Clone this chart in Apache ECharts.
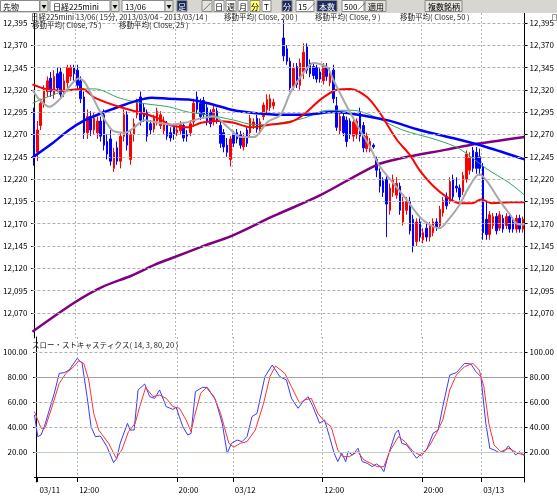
<!DOCTYPE html>
<html>
<head>
<meta charset="utf-8">
<title>日経225mini 15分足</title>
<script src="https://cdn.jsdelivr.net/npm/echarts@6/dist/echarts.min.js"></script>
<style>
html, body { margin: 0; padding: 0; background: #fff; }
#main { width: 557px; height: 496px; }
</style>
</head>
<body>
<div id="main"></div>
<script>
// ローソク足 [始値, 終値, 安値, 高値]（'-' は空き）
var ohlc = [
  [12295,12245,12235,12300],[12250,12275,12240,12285],[12280,12305,12275,12310],[12305,12320,12300,12325],
  [12318,12330,12312,12335],[12333,12318,12312,12340],[12315,12335,12310,12342],[12338,12322,12318,12345],
  [12340,12315,12310,12345],[12318,12330,12312,12338],[12328,12345,12322,12348],[12335,12345,12330,12348],
  [12345,12338,12330,12348],[12342,12325,12320,12348],[12330,12310,12305,12335],[12312,12272,12265,12318],
  [12272,12290,12265,12298],[12290,12275,12268,12296],[12275,12288,12270,12295],[12272,12285,12265,12290],
  [12285,12268,12262,12290],[12292,12258,12252,12298],[12262,12248,12242,12270],[12265,12240,12235,12275],
  [12232,12250,12228,12255],[12255,12240,12236,12262],[12240,12268,12232,12272],[12268,12292,12262,12298],
  [12292,12258,12252,12296],[12242,12270,12236,12274],[12270,12282,12262,12288],[12292,12305,12288,12310],
  [12312,12286,12280,12318],[12300,12290,12284,12305],[12295,12268,12262,12298],[12282,12275,12270,12286],
  [12276,12288,12272,12292],[12285,12296,12280,12300],[12280,12292,12276,12296],[12274,12284,12270,12290],
  [12282,12268,12264,12285],[12272,12266,12262,12278],[12278,12270,12264,12282],[12272,12275,12268,12280],
  [12274,12281,12270,12285],[12280,12266,12262,12284],[12270,12268,12262,12275],[12272,12282,12268,12286],
  [12284,12305,12280,12310],[12312,12298,12294,12318],[12305,12290,12286,12310],[12308,12292,12288,12312],
  [12300,12285,12280,12304],[12295,12282,12278,12298],[12285,12298,12280,12302],[12296,12286,12282,12300],
  [12280,12260,12255,12284],[12272,12256,12250,12276],[12258,12250,12245,12266],[12242,12265,12234,12268],
  [12270,12260,12256,12274],[12272,12265,12260,12276],[12270,12258,12254,12274],[12256,12268,12252,12272],
  [12275,12260,12256,12278],[12272,12288,12268,12292],[12280,12284,12276,12288],[12288,12276,12272,12292],
  [12276,12284,12272,12288],[12290,12303,12286,12306],[12298,12309,12294,12315],[12300,12310,12296,12315],
  [12302,12306,12298,12310],'-','-',[12378,12358,12352,12398],
  [12366,12352,12348,12370],[12352,12322,12318,12356],[12324,12344,12320,12350],[12346,12326,12322,12350],
  [12325,12350,12320,12355],[12340,12362,12332,12372],[12368,12342,12338,12372],[12350,12338,12334,12354],
  [12346,12336,12332,12350],[12345,12332,12328,12348],[12340,12332,12328,12344],[12330,12346,12326,12350],
  [12345,12335,12330,12350],[12328,12340,12324,12345],[12342,12310,12305,12348],[12302,12278,12274,12312],
  [12274,12290,12270,12294],[12290,12272,12268,12294],[12286,12262,12256,12290],[12285,12270,12265,12288],
  [12268,12284,12262,12288],[12270,12285,12265,12288],[12295,12268,12262,12300],[12280,12255,12250,12284],
  [12254,12268,12250,12272],[12252,12262,12250,12266],[12258,12256,12254,12260],[12242,12230,12222,12245],
  [12228,12212,12205,12232],[12218,12205,12200,12222],[12220,12192,12155,12224],[12185,12210,12180,12215],
  [12205,12220,12200,12225],[12202,12215,12198,12222],[12212,12185,12180,12216],[12172,12195,12168,12200],
  [12185,12195,12180,12200],[12195,12162,12158,12200],[12175,12145,12138,12180],[12150,12172,12145,12176],
  [12172,12155,12150,12176],[12152,12160,12148,12165],[12165,12155,12150,12170],[12155,12168,12150,12172],
  [12160,12172,12156,12176],[12172,12166,12162,12176],[12168,12186,12164,12190],[12182,12196,12178,12200],
  [12200,12190,12186,12205],[12195,12217,12192,12222],[12220,12200,12196,12225],[12212,12210,12205,12222],
  [12210,12200,12196,12214],[12206,12224,12202,12228],[12220,12248,12216,12252],[12230,12244,12225,12250],
  [12252,12232,12228,12256],[12250,12232,12226,12256],[12245,12232,12224,12254],[12234,12160,12152,12238],
  [12175,12158,12152,12195],[12158,12180,12152,12184],[12168,12178,12164,12182],[12178,12162,12158,12182],
  [12165,12180,12162,12184],[12176,12164,12160,12180],[12168,12178,12164,12182],[12178,12164,12160,12182],
  [12172,12164,12160,12176],[12164,12176,12160,12180],[12176,12164,12160,12180],[12164,12175,12160,12178]
];

// 移動平均 [足の位置, 値]（画面から読み取り）
var ma200 = [[-0.5,12049],[12.3,12082],[20.4,12099],[29.4,12112],[36.2,12124],[42.5,12133],[50.2,12144],
  [59.8,12157],[71.1,12177],[74.1,12182],[86.1,12202],[103.1,12236],[110,12243],[124,12253],[130.8,12258],[147.5,12267]];
var ma75 = [[-0.5,12244],[5.5,12260],[10.5,12275],[15.3,12286],[20.4,12294],[25.5,12301],[30.2,12307],[35.3,12311],
  [40.4,12310],[46.4,12309],[52.3,12305],[60.1,12297],[66.1,12294],[74.1,12292],[81,12292],[90,12295],[95.9,12293],
  [106.1,12286],[115.9,12275],[125.8,12266],[135.9,12256],[147.5,12242]];
var ma50 = [[-0.5,12305],[5.5,12314],[10.5,12320],[18.3,12321],[25.5,12311],[32.3,12305],[40.4,12301],[46.4,12295],
  [52.3,12292],[60.1,12286],[66.1,12281],[71.1,12281],[74.1,12283],[81,12288],[88.2,12297],[95.9,12297],[101,12292],
  [110.8,12275],[121,12264],[127.9,12254],[135.9,12232],[142.8,12216],[147.5,12202]];
var ma25 = [[-0.5,12326],[3.4,12321],[8.5,12319],[14.4,12321],[18.3,12311],[25.5,12301],[32.3,12294],[37.4,12288],
  [41.3,12280],[46.4,12278],[50.2,12283],[55.3,12285],[60.1,12283],[65.2,12278],[71.1,12281],[77.1,12284],[81,12292],
  [86.1,12309],[91.1,12320],[95,12321],[100.1,12312],[104,12294],[109.1,12264],[113,12247],[115.9,12230],[119.8,12213],
  [124,12200],[127.9,12193],[131.7,12193],[134.4,12197],[137.7,12193],[142.8,12194],[147.5,12194]];
var ma9 = [[-0.5,12320],[1.6,12309],[4.6,12301],[7.6,12309],[10.5,12323],[13.5,12333],[15.3,12328],[19.5,12298],
  [23.4,12275],[27.3,12272],[30.2,12278],[33.2,12286],[37.4,12283],[41.3,12281],[45.2,12283],[50.2,12288],[54.1,12290],
  [58.3,12278],[62.2,12267],[66.1,12267],[70.2,12284],[74.1,12292],[77.1,12317],[81,12339],[84,12350],[88.2,12345],
  [90,12331],[94.1,12301],[98,12275],[101,12256],[104,12234],[107.9,12216],[112,12197],[115.9,12178],[118.9,12169],
  [121.9,12165],[124.9,12176],[127.9,12191],[130.8,12211],[133.8,12225],[135.9,12219],[139.8,12197],[142.8,12182],
  [145.8,12169],[147.5,12169]];

// スロー・ストキャスティクス
var stochK = [[-0.5,49.6],[0.5,32.3],[1.5,33.6],[2.5,40.3],[4,53.6],[5.5,67],[7,82.9],[8.5,83.5],[10,85.6],[12.4,94.9],
  [13.9,90.9],[15.4,64.3],[16.6,40.3],[17.9,32.3],[19.4,32.8],[21.4,24.3],[23.4,11.5],[24.4,15],[25.4,27],[27.6,42.9],
  [28.4,37.6],[29.6,37.6],[30.8,69.6],[32.8,74.4],[34.3,64.3],[35.8,62.9],[37.3,69.6],[39.3,56.3],[41.3,54.1],[42.3,55.7],
  [44.3,40.3],[45.8,33.6],[46.8,34.9],[48.1,68.3],[50.2,71.7],[51.7,71.7],[54.2,61.6],[56.2,43],[57.7,19],[59,27],
  [60.7,29.6],[62.2,28.3],[63.7,32.3],[65.2,48.3],[66.7,50.9],[69.1,80.3],[71.3,89.6],[73.6,80.3],[75.6,77.6],[77.1,63],
  [79.1,55],[80.6,60.3],[82.1,64.3],[83.6,56.3],[85.6,43],[87.1,45.6],[88.6,32.3],[90,19],[91.1,12.3],[92.3,19],
  [93.5,12.3],[94.2,20.3],[95.5,17.6],[97.2,23],[98.5,12.3],[100,11],[101.5,8.3],[102.8,10.4],[104,8.3],[105,4.3],
  [106.5,19],[108.5,35],[109.4,37.6],[110.4,27],[111.9,25.6],[114.9,15],[116.4,19],[117.9,21.6],[119.9,35],[121.4,37.6],
  [122.8,56.3],[124.9,81.6],[126.9,83.5],[129.4,90.9],[131.3,90.4],[132.8,84.3],[134.3,80.3],[135.8,43],[137,23],
  [138.3,21.6],[139.8,19.5],[141.3,20.3],[142.6,24.9],[144.8,17.6],[146,20.3],[147.5,16.9]];
var stochD = [[-0.5,52.3],[1.5,39],[2.7,39],[4.5,53.6],[7,74.9],[9,82.9],[11.4,88.3],[12.9,93],[14.4,90.9],[15.9,77.6],
  [17.4,50.9],[18.9,37.6],[20.4,32.3],[21.9,27],[24.2,15],[25.9,21.6],[27.9,36.3],[29.9,42.9],[31.3,56.3],[33.1,71.7],
  [35.3,64.3],[37.3,65.6],[39.3,62.9],[41.3,56.3],[43.3,55],[45.3,45.6],[46.8,36.3],[47.8,48.3],[49.7,67],[51.4,71.5],
  [53.7,64.3],[55.7,51],[58.2,27],[59.7,23.8],[61.7,27],[63.7,28.3],[66.2,37.6],[68.7,59],[70.6,80.3],[72.3,88.8],
  [75.1,82.9],[77.1,72.3],[79.6,59],[81.1,61.6],[83.1,62.9],[85.1,50.9],[87.1,44.3],[89.1,40.3],[91.1,21.6],[92.6,16.3],
  [94.6,16.3],[97.1,20.3],[99,13.7],[101,11],[103,8.3],[105,8.3],[107,21.6],[109.4,32.3],[111.4,28.3],[113.9,20.3],
  [116.4,16.9],[118.9,25.6],[120.9,35],[122.8,45.6],[124.9,69.6],[126.9,81.6],[129.4,88.3],[131.9,90.9],[133.8,85.6],
  [135.2,72.3],[136.7,43],[138.3,25.6],[140.3,20.3],[142.8,23],[145.5,19],[147.5,17.6]];

var priceTicks = [12070,12095,12120,12145,12170,12195,12220,12245,12270,12295,12320,12345,12370,12395];
var stochTicks = [20,40,60,80,100];
var timeTicks = [1,13,43,60,87,117,135];
var timeLabels = ['03/11','12:00','20:00','03/12','12:00','20:00','03/13'];

var FONT = 'Noto Sans CJK JP';
var N = ohlc.length;
var cats = ohlc.map(function (d, i) { return i; });
var labelAt = {};
timeTicks.forEach(function (k, j) { labelAt[k] = timeLabels[j]; });
var gridAt = timeTicks.slice(1);

function comma(v) { return String(v).replace(/\B(?=(\d{3})+(?!\d))/g, ','); }

function yAxisDef(grid, pos, min, max, ticks, fmt, margin) {
  return {
    type: 'value', gridIndex: grid, position: pos, min: min, max: max,
    axisLine: { show: true, lineStyle: { color: '#000', width: 1 } },
    axisTick: { show: true, length: 3, customValues: ticks, lineStyle: { color: '#000' } },
    axisLabel: { customValues: ticks, margin: margin, fontSize: 8, color: '#000', fontFamily: FONT, formatter: fmt },
    splitLine: { show: false }
  };
}

var vGrid = { show: true, interval: function (i) { return gridAt.indexOf(i) >= 0; },
  lineStyle: { color: '#b8b4c8', type: [2, 2], width: 1 } };

function maLine(data, color, width) {
  return { type: 'line', xAxisIndex: 1, yAxisIndex: 0, data: data, smooth: 0.3, showSymbol: false,
    symbol: 'none', lineStyle: { color: color, width: width }, z: 4, silent: true };
}

function box(x, w, fill) {
  return { type: 'rect', shape: { x: x, y: 0.5, width: w, height: 11 },
    style: { fill: fill, stroke: '#8a8a8a', lineWidth: 1 }, z: 20 };
}
function txt(x, y, text, extra) {
  var s = { text: text, fill: '#000', fontSize: 8, fontFamily: FONT, verticalAlign: 'middle' };
  for (var k in extra || {}) s[k] = extra[k];
  return { type: 'text', x: x, y: y, style: s, z: 21 };
}

var NAVY = '#1e2b5e';
var graphics = [
  { type: 'rect', shape: { x: 0, y: 0, width: 557, height: 13 }, style: { fill: '#d8d6d0' }, z: 19 },
  box(0.5, 39, '#fff'), txt(3, 6.5, '先物'),
  box(40, 8, '#e4e2dc'), txt(41.5, 6.5, '▼', { fontSize: 5 }),
  box(50, 60, '#fff'), txt(53, 6.5, '日経225mini'),
  box(111, 8, '#e4e2dc'), txt(112.5, 6.5, '▼', { fontSize: 5 }),
  box(122, 43, '#fff'), txt(125, 6.5, '13/06'),
  box(165, 8, '#e4e2dc'), txt(166.5, 6.5, '▼', { fontSize: 5 }),
  box(177, 10, NAVY), txt(178, 6.5, '足', { fill: '#fff' }),
  box(202, 10, '#e4e2dc'), txt(203, 6.5, '／'),
  box(214, 10, '#fff'), txt(215, 6.5, '日'),
  box(226, 10, '#fff'), txt(227, 6.5, '週'),
  box(238, 10, '#fff'), txt(239, 6.5, '月'),
  box(250, 10, '#ffff70'), txt(251, 6.5, '分'),
  box(262, 9, '#fff'), txt(264, 6.5, 'T'),
  box(282, 10, NAVY), txt(283, 6.5, '分', { fill: '#fff' }),
  box(296, 18, '#fff'), txt(298, 6.5, '15／'),
  box(317, 20, NAVY), txt(319, 6.5, '本数', { fill: '#fff' }),
  box(342, 22, '#fff'), txt(344, 6.5, '500／'),
  box(365, 21, '#e4e2dc'), txt(368, 6.5, '適用'),
  box(425, 37, '#e4e2dc'), txt(428, 6.5, '複数銘柄'),
  { type: 'rect', shape: { x: 552.5, y: 14.5, width: 4, height: 6 }, style: { fill: '#fff', stroke: '#999' }, z: 20 },
  txt(31, 17, '日経225mini 13/06( 15分, 2013/03/04 - 2013/03/14 )', { fontSize: 7.5, fill: '#222' }),
  txt(224, 17, '移動平均( Close, 200 )', { fontSize: 7.5, fill: '#222' }),
  txt(315, 17, '移動平均( Close, 9 )', { fontSize: 7.5, fill: '#222' }),
  txt(400, 17, '移動平均( Close, 50 )', { fontSize: 7.5, fill: '#222' }),
  txt(32, 25.5, '移動平均( Close, 75 )', { fontSize: 7.5, fill: '#222' }),
  txt(119, 25.5, '移動平均( Close, 25 )', { fontSize: 7.5, fill: '#222' }),
  txt(32, 345.5, 'スロー・ストキャスティクス( 14, 3, 80, 20 )', { fontSize: 7.5, fill: '#222' })
];

var chart = echarts.init(document.getElementById('main'), null, { renderer: 'canvas' });
chart.setOption({
  animation: false,
  backgroundColor: '#fff',
  grid: [
    { left: 30, top: 13, width: 496, height: 325 },
    { left: 30, top: 337, width: 496, height: 145 }
  ],
  xAxis: [
    { type: 'category', gridIndex: 0, data: cats, boundaryGap: true,
      axisLine: { show: false }, axisTick: { show: false }, axisLabel: { show: false }, splitLine: vGrid },
    { type: 'value', gridIndex: 0, min: -0.5, max: N - 0.5, show: false },
    { type: 'category', gridIndex: 1, data: cats, boundaryGap: true, position: 'bottom',
      axisLine: { show: true, lineStyle: { color: '#000' } },
      axisTick: { show: true, length: 5, interval: function (i) { return labelAt[i] !== undefined; }, lineStyle: { color: '#000' } },
      axisLabel: { interval: function (i) { return labelAt[i] !== undefined; },
        formatter: function (v) { return labelAt[v] || ''; },
        align: 'left', margin: 4, fontSize: 8, color: '#000', fontFamily: FONT },
      splitLine: vGrid },
    { type: 'value', gridIndex: 1, min: -0.5, max: N - 0.5, show: false }
  ],
  yAxis: [
    yAxisDef(0, 'left', 12042, 12406, priceTicks, comma, 5),
    yAxisDef(0, 'right', 12042, 12406, priceTicks, comma, 5),
    yAxisDef(1, 'left', -4, 112, stochTicks, function (v) { return v.toFixed(2); }, 7),
    yAxisDef(1, 'right', -4, 112, stochTicks, function (v) { return v.toFixed(2); }, 5)
  ],
  graphic: graphics,
  series: [
    { type: 'line', xAxisIndex: 1, yAxisIndex: 0, data: [], silent: true, z: 1,
      markLine: { silent: true, symbol: 'none', label: { show: false }, animation: false,
        lineStyle: { color: '#b0b0b0', type: [3, 2], width: 1 },
        data: priceTicks.map(function (v) { return { yAxis: v }; }) } },
    { type: 'candlestick', xAxisIndex: 0, yAxisIndex: 0, data: ohlc, barWidth: 2, z: 2, silent: true,
      itemStyle: { color: '#ff0000', color0: '#0000ff', borderColor: '#ff0000', borderColor0: '#0000ff', borderWidth: 1 } },
    maLine(ma200, '#800080', 2.5),
    maLine(ma50, '#2ea860', 1),
    maLine(ma75, '#0000ff', 2.5),
    maLine(ma25, '#ff0000', 2),
    maLine(ma9, '#a8a8a8', 2),
    { type: 'line', xAxisIndex: 3, yAxisIndex: 2, data: [], silent: true, z: 1,
      markLine: { silent: true, symbol: 'none', label: { show: false }, animation: false,
        lineStyle: { color: '#b0b0b0', type: [3, 2], width: 1 },
        data: stochTicks.map(function (v) {
          var solid = (v === 80 || v === 20);
          return { yAxis: v, lineStyle: solid ? { type: 'solid', color: v === 80 ? '#a0a0a0' : '#b8d0b8' } : {} };
        }) } },
    { type: 'line', xAxisIndex: 3, yAxisIndex: 2, data: stochK, showSymbol: false, symbol: 'none',
      lineStyle: { color: '#3a3aff', width: 1 }, z: 3, silent: true },
    { type: 'line', xAxisIndex: 3, yAxisIndex: 2, data: stochD, showSymbol: false, symbol: 'none',
      lineStyle: { color: '#ff3030', width: 1 }, z: 3, silent: true }
  ]
});
</script>
</body>
</html>
